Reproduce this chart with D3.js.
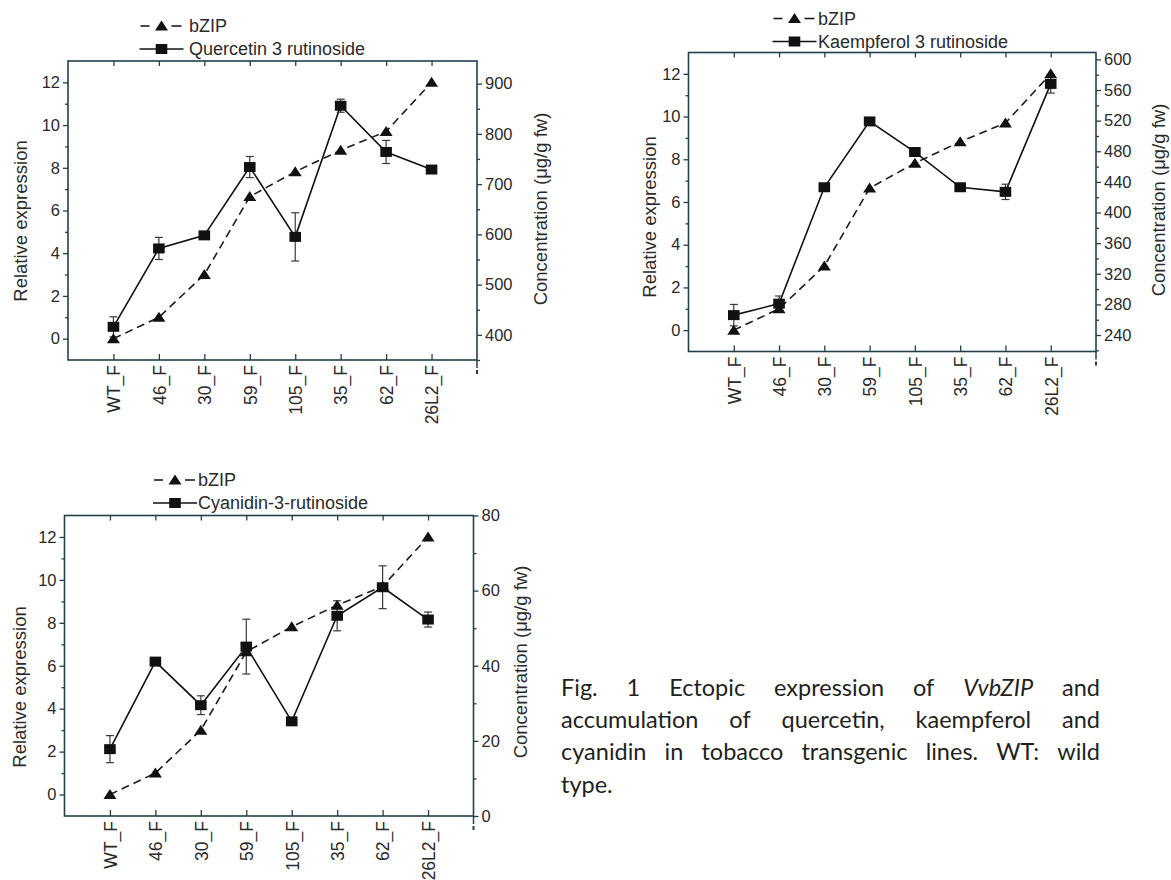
<!DOCTYPE html>
<html>
<head>
<meta charset="utf-8">
<script src="https://d3js.org/d3.v7.min.js"></script>
<style>
  body { margin: 0; background: #fff; }
  svg { display: block; }
  text { font-family: "Liberation Sans", Arial, sans-serif; fill: #2a2a2a; }
</style>
</head>
<body>
<div id="chart"></div>
<script>
// values
const categories = ["WT_F", "46_F", "30_F", "59_F", "105_F", "35_F", "62_F", "26L2_F"];
const bzip = [0, 1.0, 3.0, 6.65, 7.82, 8.82, 9.7, 12.0];

const quercetin = [416, 572, 598, 734, 595, 856, 764, 729];
const quercetinErr = [20, 22, 6, 21, 48, 13, 23, 5];

const kaempferol = [266, 281, 433, 519, 479, 433, 427, 568];
const kaempferolErr = [14, 10, 4, 4, 5, 3, 10, 12];

const cyanidin = [17.8, 41.1, 29.5, 45.1, 25.2, 53.3, 60.9, 52.3];
const cyanidinErr = [3.6, 0.8, 2.5, 7.3, 0.8, 4.0, 5.7, 2.0];

const leftTicks = [0, 2, 4, 6, 8, 10, 12];

const captionLines = [
  [["Fig."], ["1"], ["Ectopic"], ["expression"], ["of"], ["VvbZIP", true], ["and"]],
  [["accumulation"], ["of"], ["quercetin,"], ["kaempferol"], ["and"]],
  [["cyanidin"], ["in"], ["tobacco"], ["transgenic"], ["lines."], ["WT:"], ["wild"]],
  [["type."]]
];

const width = 1171, height = 880;
const axisColor = "#22404c";

const svg = d3.select("#chart").append("svg")
  .attr("width", width)
  .attr("height", height);

const panels = [
  { name: "Quercetin 3 rutinoside", conc: quercetin, err: quercetinErr,
    box: { l: 68, t: 61, r: 477, b: 360 },
    rDomain: [350, 945], rMajor: 100, rMinor: 50,
    leftTitle: { x: 21, y: 221 }, rightTitle: { x: 541, y: 209 },
    legend: { x: 161.5, y: 26, textX: 189 } },
  { name: "Kaempferol 3 rutinoside", conc: kaempferol, err: kaempferolErr,
    box: { l: 688.5, t: 52.5, r: 1096, b: 351.5 },
    rDomain: [218.5, 609], rMajor: 40, rMinor: 20,
    leftTitle: { x: 650, y: 217 }, rightTitle: { x: 1159, y: 200 },
    legend: { x: 794.5, y: 18.5, textX: 818 } },
  { name: "Cyanidin-3-rutinoside", conc: cyanidin, err: cyanidinErr,
    box: { l: 64.5, t: 515.5, r: 473.5, b: 816 },
    rDomain: [0, 80], rMajor: 20, rMinor: 10,
    leftTitle: { x: 20, y: 687 }, rightTitle: { x: 521, y: 662 },
    legend: { x: 175, y: 480, textX: 198 } }
];

// Origin-style markers, a little wider than tall like the scanned figure
const triPath = "M0,-5.5L6.5,4.5L-6.5,4.5Z";
const sqPath = "M-5.8,-5H5.8V5H-5.8Z";

function drawPanel(p) {
  const g = svg.append("g");
  const b = p.box;

  const x = d3.scaleLinear().domain([-1, categories.length]).range([b.l, b.r]);
  const yL = d3.scaleLinear().domain([-1, 13]).range([b.b, b.t]);
  const yR = d3.scaleLinear().domain(p.rDomain).range([b.b, b.t]);

  const idx = d3.range(categories.length);

  // minor ticks first
  const leftMinor = d3.range(0, 13, 1).filter(v => !leftTicks.includes(v));
  g.append("g").attr("transform", `translate(${b.l},0)`)
    .call(d3.axisLeft(yL).tickValues(leftMinor).tickSize(3).tickFormat(""))
    .call(a => a.select(".domain").remove());
  const rMinorVals = d3.range(Math.ceil(p.rDomain[0] / p.rMinor) * p.rMinor, p.rDomain[1] + 0.01, p.rMinor)
    .filter(v => Math.abs(v / p.rMajor - Math.round(v / p.rMajor)) > 1e-6);
  g.append("g").attr("transform", `translate(${b.r},0)`)
    .call(d3.axisRight(yR).tickValues(rMinorVals).tickSize(3).tickFormat(""))
    .call(a => a.select(".domain").remove());

  // left axis
  g.append("g").attr("transform", `translate(${b.l},0)`)
    .call(d3.axisLeft(yL).tickValues(leftTicks).tickSize(5).tickPadding(3))
    .call(a => a.select(".domain").remove())
    .call(a => a.selectAll("text").attr("font-size", 16.5).attr("font-family", "Liberation Sans, Arial, sans-serif"));

  // right axis
  const rMajorVals = d3.range(Math.ceil(p.rDomain[0] / p.rMajor) * p.rMajor, p.rDomain[1] + 0.01, p.rMajor);
  g.append("g").attr("transform", `translate(${b.r},0)`)
    .call(d3.axisRight(yR).tickValues(rMajorVals).tickSize(5).tickPadding(3))
    .call(a => a.select(".domain").remove())
    .call(a => a.selectAll("text").attr("font-size", 16.5).attr("font-family", "Liberation Sans, Arial, sans-serif"));

  // bottom axis: inward ticks at the categories, rotated labels
  g.append("g").attr("transform", `translate(0,${b.b})`)
    .call(d3.axisBottom(x).tickValues(idx).tickSize(-6).tickFormat(i => categories[i]))
    .call(a => a.select(".domain").remove())
    .call(a => a.selectAll("text")
      .attr("font-size", 17.5)
      .attr("font-family", "Liberation Sans, Arial, sans-serif")
      .attr("text-anchor", "end")
      .attr("transform", "rotate(-90)")
      .attr("x", -5).attr("y", 0).attr("dy", "0.36em"));

  // top axis ticks
  g.append("g").attr("transform", `translate(0,${b.t})`)
    .call(d3.axisTop(x).tickValues(idx).tickSize(-5).tickFormat(""))
    .call(a => a.select(".domain").remove());

  g.selectAll(".tick line").attr("stroke", axisColor).attr("stroke-width", 1.3);
  g.selectAll(".tick text").attr("fill", "#2a2a2a");

  // the little mark beyond the last category
  const xEnd = x(categories.length);
  g.append("line").attr("x1", xEnd).attr("x2", xEnd).attr("y1", b.b).attr("y2", b.b + 8)
    .attr("stroke", axisColor).attr("stroke-width", 1.5);
  g.append("rect").attr("x", xEnd - 1).attr("y", b.b + 10).attr("width", 2).attr("height", 4)
    .attr("fill", axisColor);

  // frame
  g.append("rect")
    .attr("x", b.l).attr("y", b.t)
    .attr("width", b.r - b.l).attr("height", b.b - b.t)
    .attr("fill", "none").attr("stroke", axisColor).attr("stroke-width", 1.6);

  // axis titles
  g.append("text")
    .attr("transform", `translate(${p.leftTitle.x},${p.leftTitle.y}) rotate(-90)`)
    .attr("text-anchor", "middle").attr("dy", "0.35em")
    .attr("font-size", 18.5)
    .text("Relative expression");
  g.append("text")
    .attr("transform", `translate(${p.rightTitle.x},${p.rightTitle.y}) rotate(-90)`)
    .attr("text-anchor", "middle").attr("dy", "0.35em")
    .attr("font-size", 18.5)
    .text("Concentration (\u03bcg/g fw)");

  // bZIP dashed line
  const lineL = d3.line().x((d, i) => x(i)).y(d => yL(d));
  g.append("path").datum(bzip)
    .attr("d", lineL)
    .attr("fill", "none").attr("stroke", "#1c1c1c")
    .attr("stroke-width", 1.6).attr("stroke-dasharray", "8,5");

  // concentration solid line
  const lineR = d3.line().x((d, i) => x(i)).y(d => yR(d));
  g.append("path").datum(p.conc)
    .attr("d", lineR)
    .attr("fill", "none").attr("stroke", "#111")
    .attr("stroke-width", 1.6);

  // error bars
  const eb = g.append("g").attr("stroke", "#3a3a3a").attr("stroke-width", 1.2);
  idx.forEach(i => {
    const v = p.conc[i], e = p.err[i];
    const cx = x(i);
    eb.append("line").attr("x1", cx).attr("x2", cx).attr("y1", yR(v - e)).attr("y2", yR(v + e));
    eb.append("line").attr("x1", cx - 4).attr("x2", cx + 4).attr("y1", yR(v - e)).attr("y2", yR(v - e));
    eb.append("line").attr("x1", cx - 4).attr("x2", cx + 4).attr("y1", yR(v + e)).attr("y2", yR(v + e));
  });

  // markers
  g.selectAll(".tri").data(bzip).enter().append("path")
    .attr("d", triPath)
    .attr("transform", (d, i) => `translate(${x(i)},${yL(d)})`)
    .attr("fill", "#111");
  g.selectAll(".sq").data(p.conc).enter().append("path")
    .attr("d", sqPath)
    .attr("transform", (d, i) => `translate(${x(i)},${yR(d)})`)
    .attr("fill", "#111");

  // legend
  const lg = p.legend;
  const row2 = lg.y + 23;
  g.append("line").attr("x1", lg.x - 21).attr("x2", lg.x - 12).attr("y1", lg.y).attr("y2", lg.y)
    .attr("stroke", "#1c1c1c").attr("stroke-width", 1.6);
  g.append("line").attr("x1", lg.x + 10).attr("x2", lg.x + 20).attr("y1", lg.y).attr("y2", lg.y)
    .attr("stroke", "#1c1c1c").attr("stroke-width", 1.6);
  g.append("path").attr("d", triPath).attr("transform", `translate(${lg.x},${lg.y})`).attr("fill", "#111");
  g.append("text").attr("x", lg.textX).attr("y", lg.y).attr("dy", "0.35em")
    .attr("font-size", 18).text("bZIP");

  g.append("line").attr("x1", lg.x - 22).attr("x2", lg.x + 22).attr("y1", row2).attr("y2", row2)
    .attr("stroke", "#111").attr("stroke-width", 1.6);
  g.append("path").attr("d", sqPath).attr("transform", `translate(${lg.x},${row2})`).attr("fill", "#111");
  g.append("text").attr("x", lg.textX).attr("y", row2).attr("dy", "0.35em")
    .attr("font-size", 18).text(p.name);
}

panels.forEach(drawPanel);

// justified caption
const cap = svg.append("g");
const capLeft = 561, capRight = 1100, capTop = 696, capStep = 32.2;
captionLines.forEach((words, li) => {
  const y = capTop + li * capStep;
  const nodes = words.map(w => cap.append("text")
    .attr("y", y)
    .style("font-family", "Lato, 'Open Sans', sans-serif")
    .style("font-size", "23.5px")
    .style("fill", "#231f20")
    .attr("font-style", w[1] ? "italic" : "normal")
    .text(w[0]));
  const widths = nodes.map(n => n.node().getComputedTextLength());
  const total = d3.sum(widths);
  const last = li === captionLines.length - 1;
  const gap = (last || nodes.length < 2) ? 6 : (capRight - capLeft - total) / (nodes.length - 1);
  let xPos = capLeft;
  nodes.forEach((n, i) => {
    n.attr("x", xPos);
    xPos += widths[i] + gap;
  });
});
</script>
</body>
</html>
